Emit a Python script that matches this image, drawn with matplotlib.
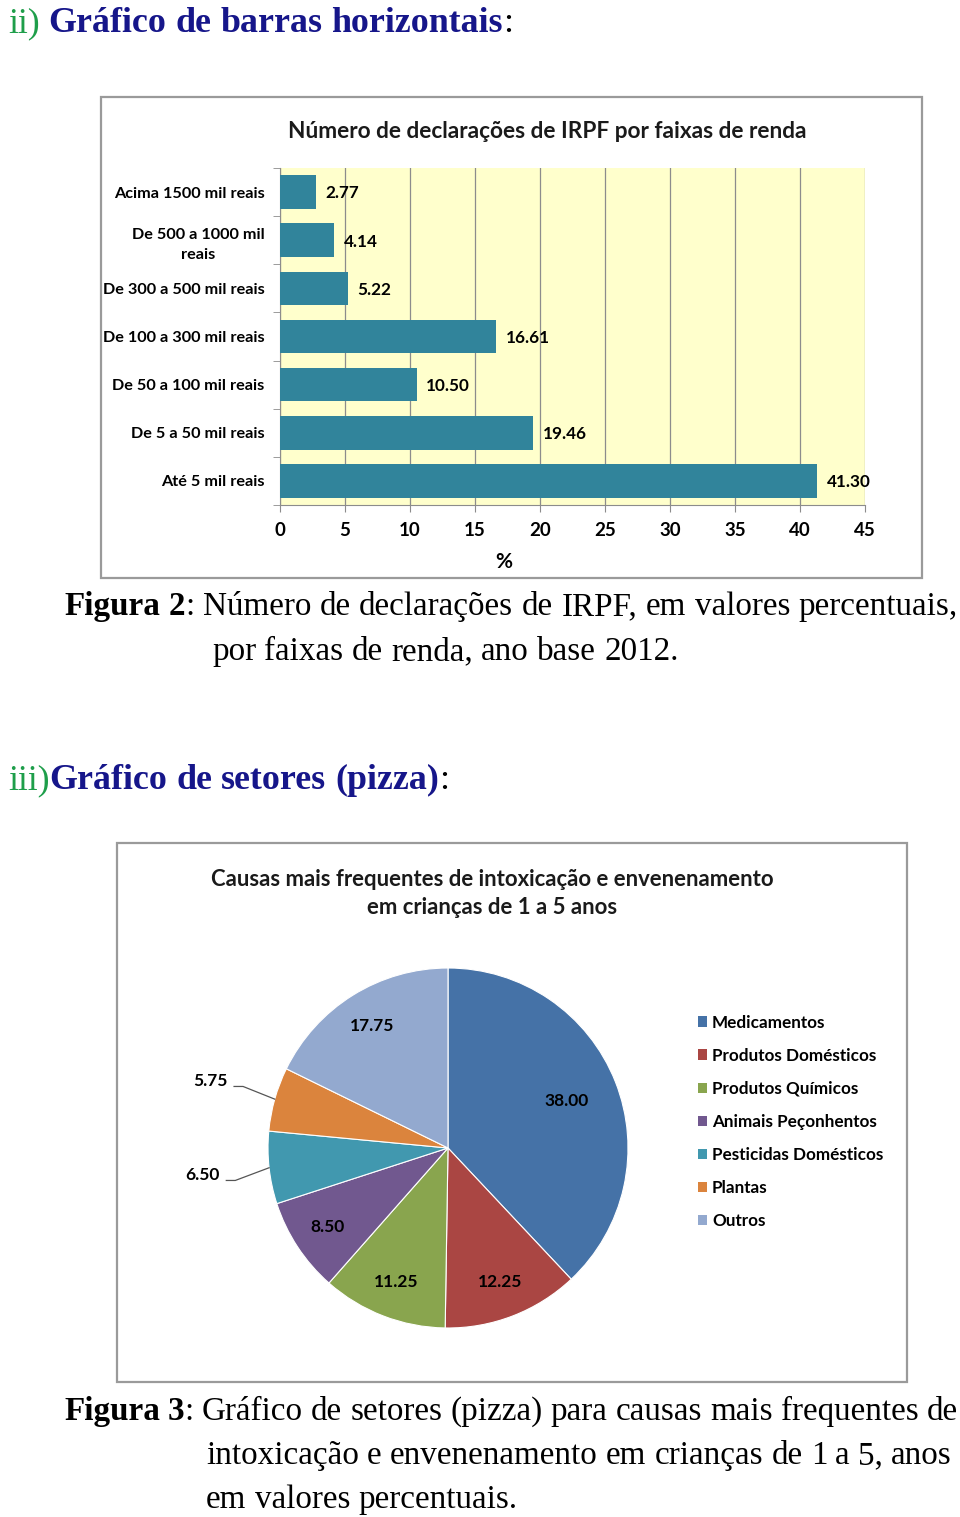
import matplotlib
matplotlib.use("Agg")
import matplotlib.pyplot as plt
import numpy as np
from matplotlib.patches import Rectangle, Patch
from matplotlib.lines import Line2D

W, H = 960, 1517

# ---------------- data ----------------
categories = ["Acima 1500 mil reais", "De 500 a 1000 mil\nreais", "De 300 a 500 mil reais",
              "De 100 a 300 mil reais", "De 50 a 100 mil reais", "De 5 a 50 mil reais",
              "Até 5 mil reais"]
percent = [2.77, 4.14, 5.22, 16.61, 10.50, 19.46, 41.30]
x_ticks = [0, 5, 10, 15, 20, 25, 30, 35, 40, 45]

causes = ["Medicamentos", "Produtos Domésticos", "Produtos Químicos", "Animais Peçonhentos",
          "Pesticidas Domésticos", "Plantas", "Outros"]
cause_pct = [38.00, 12.25, 11.25, 8.50, 6.50, 5.75, 17.75]
cause_colors = ["#4572A7", "#AA4643", "#89A54E", "#71588F", "#4198AF", "#DB843D", "#93A9CF"]

SANS = ["Lato", "DejaVu Sans"]
SERIF = ["Liberation Serif", "DejaVu Serif"]
GREEN = "#1E9E4A"
NAVY = "#16168A"

fig = plt.figure(figsize=(W / 100, H / 100), dpi=100)
fig.patch.set_facecolor("white")
renderer = fig.canvas.get_renderer()


def fx(px):
    return px / W


def fy(py):
    return 1 - py / H


def text_w(s, size, family, **kw):
    t = fig.text(0, 0, s, fontsize=size, family=family, **kw)
    w = t.get_window_extent(renderer).width
    t.remove()
    return w


def tokenize(segs):
    tokens = []
    for s, kw in segs:
        parts = s.split(" ")
        for i, p in enumerate(parts):
            if i == 0 and tokens and not s.startswith(" ") and p != "":
                tokens[-1].append((p, kw))
            elif p != "":
                tokens.append([(p, kw)])
    return tokens


def token_w(tok, size, family):
    return sum(text_w(p, size, family, **kw) for p, kw in tok)


def space_w(size, family):
    return text_w("x x", size, family) - text_w("xx", size, family)


def draw_line(segs, x0, yb, size, family=SERIF, x1=None):
    tokens = tokenize(segs)
    widths = [token_w(t, size, family) for t in tokens]
    if x1 is not None and len(tokens) > 1:
        gap = (x1 - x0 - sum(widths)) / (len(tokens) - 1)
    else:
        gap = space_w(size, family)
    x = x0
    for tok, w in zip(tokens, widths):
        xx = x
        for p, kw in tok:
            t = fig.text(fx(xx), fy(yb), p, fontsize=size, family=family,
                         ha="left", va="baseline", **kw)
            xx += t.get_window_extent(renderer).width
        x += w + gap


def fit_size(segs, target, family=SERIF, base=20):
    tokens = tokenize(segs)
    w = sum(token_w(t, base, family) for t in tokens) + space_w(base, family) * (len(tokens) - 1)
    return base * target / w


B = dict(fontweight="bold")
N = dict()

# ---------------- headers ----------------
h1 = [("ii)", dict(color=GREEN)), (" Gráfico de barras horizontais", dict(color=NAVY, fontweight="bold")),
      (":", dict(color="black"))]
hs = fit_size(h1, 504)
draw_line(h1, 8, 32, hs)

h2 = [("iii)", dict(color=GREEN)), ("Gráfico de setores (pizza)", dict(color=NAVY, fontweight="bold")),
      (":", dict(color="black"))]
draw_line(h2, 8, 789, hs)

# ---------------- captions ----------------
cap_size = fit_size([("por faixas de renda, ano base 2012.", N)], 468)
draw_line([("Figura 2", B), (": Número de declarações de IRPF, em valores percentuais,", N)],
          64, 615, cap_size, x1=958)
draw_line([("por faixas de renda, ano base 2012.", N)], 212, 660, cap_size)
draw_line([("Figura 3", B), (": Gráfico de setores (pizza) para causas mais frequentes de", N)],
          64, 1420, cap_size, x1=958)
draw_line([("intoxicação e envenenamento em crianças de 1 a 5, anos", N)], 206, 1464, cap_size, x1=952)
draw_line([("em valores percentuais.", N)], 206, 1508, cap_size)

# ---------------- boxes ----------------
for (x0, y0, x1, y1) in [(101, 97, 922, 578), (117, 843, 907, 1382)]:
    fig.patches.append(Rectangle((fx(x0), fy(y1)), (x1 - x0) / W, (y1 - y0) / H,
                                 transform=fig.transFigure, fill=False,
                                 edgecolor="#9A9A9A", lw=1.6))

# ---------------- bar chart ----------------
ax = fig.add_axes([fx(280), fy(505), 585 / W, 337 / H])
ypos = np.arange(len(categories))
ax.set_facecolor("#FFFFCC")
ax.barh(ypos, percent, height=0.7, color="#31849B", zorder=3)
ax.set_xlim(0, 45)
ax.set_ylim(len(categories) - 0.5, -0.5)
ax.set_xticks(x_ticks)
ax.set_xticklabels([str(v) for v in x_ticks], fontsize=13.5, fontweight="bold", family=SANS)
ax.set_yticks(ypos)
ax.set_yticklabels(categories, fontsize=11.7, fontweight="bold", family=SANS,
                   multialignment="center", linespacing=1.6)
ax.set_yticks(np.arange(-0.5, len(categories)), minor=True)
ax.tick_params(axis="y", which="major", length=0, pad=11)
ax.tick_params(axis="y", which="minor", length=5, color="#8C8C8C")
ax.tick_params(axis="x", length=5, color="#8C8C8C", pad=7)
ax.grid(axis="x", color="#8C8C8C", lw=0.9, zorder=0)
ax.set_axisbelow(True)
for s in ["top", "right"]:
    ax.spines[s].set_visible(False)
for s in ["left", "bottom"]:
    ax.spines[s].set_color("#8C8C8C")
for i, v in enumerate(percent):
    ax.annotate(f"{v:.2f}", (v, i), xytext=(7, -1), textcoords="offset points",
                va="center", ha="left", fontsize=12.3, fontweight="bold", family=SANS)
fig.text(fx(504), fy(562), "%", fontsize=15, fontweight="bold", family=SANS, ha="center", va="center")
fig.text(fx(547), fy(131), "Número de declarações de IRPF por faixas de renda", fontsize=16.3,
         fontweight="bold", family=SANS, ha="center", va="center", color="#1A1A1A")

# ---------------- pie chart ----------------
pax = fig.add_axes([fx(268), fy(1328), 360 / W, 360 / H])
wedges, _ = pax.pie(cause_pct, colors=cause_colors, startangle=90, counterclock=False,
                    radius=1.0, wedgeprops=dict(edgecolor="white", linewidth=0.8))
pax.set_xlim(-1, 1)
pax.set_ylim(-1, 1)
pax.set_aspect("equal")
pax.axis("off")
for w, v in zip(wedges, cause_pct):
    mid = np.deg2rad((w.theta1 + w.theta2) / 2)
    if v < 8:
        r = 1.37
        tx, ty = r * np.cos(mid), r * np.sin(mid)
        pax.text(tx, ty, f"{v:.2f}", ha="center", va="center", fontsize=12.5, fontweight="bold",
                 family=SANS, clip_on=False)
        ex, ey = np.cos(mid), np.sin(mid)
        kx = tx + 0.13
        pax.add_line(Line2D([kx, kx + 0.05, ex], [ty - 0.03, ty - 0.03, ey], color="#555555",
                            lw=0.9, clip_on=False))
    else:
        r = 0.8 if v < 30 else 0.71
        pax.text(r * np.cos(mid), r * np.sin(mid), f"{v:.2f}", ha="center", va="center",
                 fontsize=12.5, fontweight="bold", family=SANS)

handles = [Patch(facecolor=c, edgecolor="none") for c in cause_colors]
fig.legend(handles, causes, loc="upper left", bbox_to_anchor=(fx(689), fy(1006)),
           frameon=False, borderpad=0, handlelength=0.55, handleheight=0.55, handletextpad=0.3,
           labelspacing=1.0, prop=dict(family=SANS, weight="bold", size=12.3))

fig.text(fx(492), fy(880), "Causas mais frequentes de intoxicação e envenenamento", fontsize=15.9,
         fontweight="bold", family=SANS, ha="center", va="center", color="#1A1A1A")
fig.text(fx(492), fy(908), "em crianças de 1 a 5 anos", fontsize=15.9,
         fontweight="bold", family=SANS, ha="center", va="center", color="#1A1A1A")

fig.savefig("out.png", dpi=100, facecolor="white")
